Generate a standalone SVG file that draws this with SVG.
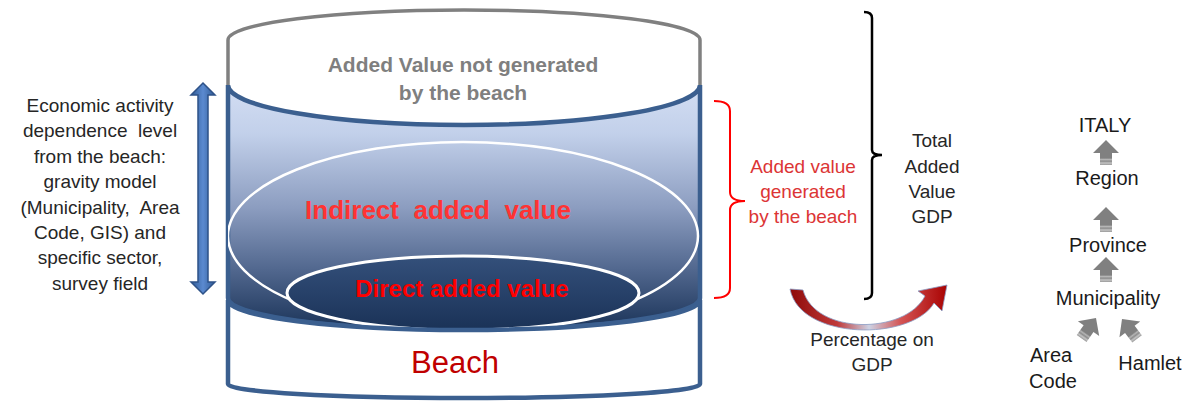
<svg xmlns="http://www.w3.org/2000/svg" width="1191" height="402" viewBox="0 0 1191 402">
<defs>
<style>
text{font-family:"Liberation Sans",Arial,sans-serif;text-anchor:middle}
.body{font-size:19px;fill:#262626}
.red{font-size:19px;fill:#dc3535}
.hier{font-size:20px;fill:#1a1a1a}
.gar{fill:url(#garGrad)}
</style>
<linearGradient id="bodyGrad" x1="0" y1="85" x2="0" y2="330" gradientUnits="userSpaceOnUse">
<stop offset="0" stop-color="#d3def3"/>
<stop offset="0.2" stop-color="#c2d0ea"/>
<stop offset="0.5" stop-color="#8c9dc0"/>
<stop offset="0.75" stop-color="#52688f"/>
<stop offset="1" stop-color="#1a3358"/>
</linearGradient>
<linearGradient id="directGrad" x1="0" y1="256" x2="0" y2="330" gradientUnits="userSpaceOnUse">
<stop offset="0" stop-color="#34507b"/>
<stop offset="1" stop-color="#1a3257"/>
</linearGradient>
<linearGradient id="dblGrad" x1="0" y1="0" x2="1" y2="0">
<stop offset="0" stop-color="#2f5a94"/>
<stop offset="0.5" stop-color="#5b8ad0"/>
<stop offset="1" stop-color="#2f5a94"/>
</linearGradient>
<linearGradient id="curveGrad" x1="790" y1="0" x2="948" y2="0" gradientUnits="userSpaceOnUse">
<stop offset="0" stop-color="#8e0a0a"/>
<stop offset="0.3" stop-color="#c03a3a"/>
<stop offset="0.5" stop-color="#cdd2e4"/>
<stop offset="0.7" stop-color="#d45555"/>
<stop offset="1" stop-color="#a80000"/>
</linearGradient>
<linearGradient id="garGrad" x1="0" y1="0" x2="0" y2="1">
<stop offset="0" stop-color="#808080"/>
<stop offset="0.72" stop-color="#808080"/>
<stop offset="0.78" stop-color="#b5b5b5"/>
<stop offset="0.85" stop-color="#8c8c8c"/>
<stop offset="0.92" stop-color="#c4c4c4"/>
<stop offset="1" stop-color="#9a9a9a"/>
</linearGradient>
<clipPath id="bodyClip">
<path d="M228,85 L228,298 A236,32 0 0 0 700,298 L700,85 A236,40 0 0 1 228,85 Z"/>
</clipPath>
<path id="upArrow" d="M0,0 L13,13 L6,13 L6,25 L-6,25 L-6,13 L-13,13 Z"/>
</defs>

<g id="cylinder-top">
<path d="M228,85 L228,40 A236,30 0 0 1 700,40 L700,85" fill="#ffffff" stroke="#808080" stroke-width="3.5"/>
<text x="463" y="72" font-size="21" font-weight="bold" fill="#7f7f7f">Added Value not generated</text>
<text x="463" y="100" font-size="21" font-weight="bold" fill="#7f7f7f">by the beach</text>
</g>

<g id="cylinder-body">
<path d="M228,85 L228,298 A236,32 0 0 0 700,298 L700,85 A236,40 0 0 1 228,85 Z" fill="url(#bodyGrad)" stroke="#3b5f8f" stroke-width="4.5"/>
</g>

<g id="indirect" clip-path="url(#bodyClip)">
<ellipse cx="463" cy="236" rx="235" ry="94" fill="none" stroke="#ffffff" stroke-width="2.5"/>
<text x="438" y="219" font-size="26" font-weight="bold" fill="#ff3333" xml:space="preserve">Indirect  added  value</text>
</g>

<g id="direct" clip-path="url(#bodyClip)">
<ellipse cx="463" cy="293" rx="176" ry="37" fill="url(#directGrad)" stroke="#ffffff" stroke-width="3"/>
<text x="462" y="297" font-size="24" font-weight="bold" fill="#ff0000">Direct added value</text>
</g>

<g id="beach">
<path d="M228,300 L228,384 A236,14 0 0 0 700,384 L700,300 A236,30 0 0 1 228,300 Z" fill="#ffffff" stroke="#3b5f8f" stroke-width="4.5"/>
<text x="455" y="373" font-size="31" fill="#c00000">Beach</text>
</g>

<g id="dependence">
<path d="M203,83 L215,95 L208,95 L208,282 L215,282 L203,294 L191,282 L198,282 L198,95 L191,95 Z" fill="url(#dblGrad)" stroke="#2e5288" stroke-width="1.5"/>
<text class="body" x="100" y="112">Economic activity</text>
<text class="body" x="100" y="137.4" xml:space="preserve">dependence  level</text>
<text class="body" x="100" y="162.8">from the beach:</text>
<text class="body" x="100" y="188.2">gravity model</text>
<text class="body" x="100" y="213.6" xml:space="preserve">(Municipality,  Area</text>
<text class="body" x="100" y="239">Code, GIS) and</text>
<text class="body" x="100" y="264.4">specific sector,</text>
<text class="body" x="100" y="289.8">survey field</text>
</g>

<g id="generated">
<path d="M714,101 Q730,101 730,111 L730,192 Q730,201 745,201 Q730,201 730,210 L730,288 Q730,298 714,298" fill="none" stroke="#ff0000" stroke-width="2"/>
<text class="red" x="803" y="173">Added value</text>
<text class="red" x="803" y="198">generated</text>
<text class="red" x="803" y="223">by the beach</text>
</g>

<g id="total">
<path d="M864,12 Q872,12 872,18 L872,150 Q872,155 882,155 Q872,155 872,160 L872,293 Q872,299 864,299" fill="none" stroke="#000000" stroke-width="2.5"/>
<text class="body" x="932" y="147">Total</text>
<text class="body" x="932" y="173">Added</text>
<text class="body" x="932" y="198">Value</text>
<text class="body" x="932" y="223">GDP</text>
</g>

<g id="percentage">
<path d="M790,289 L803,290 C815,335 905,335 925,296 L918,291 L947,285 L942,311 L934,303 C912,341 800,341 790,289 Z" fill="url(#curveGrad)" stroke="#8a9cc4" stroke-width="0.8"/>
<text class="body" x="872" y="346">Percentage on</text>
<text class="body" x="872" y="371">GDP</text>
</g>

<g id="hierarchy">
<text class="hier" x="1105" y="132">ITALY</text>
<text class="hier" x="1107" y="185">Region</text>
<text class="hier" x="1108" y="252">Province</text>
<text class="hier" x="1108" y="305">Municipality</text>
<text class="hier" x="1051" y="362">Area</text>
<text class="hier" x="1053" y="388">Code</text>
<text class="hier" x="1150" y="370">Hamlet</text>
</g>

<g id="connectors">
<use href="#upArrow" class="gar" x="1106" y="140"/>
<use href="#upArrow" class="gar" x="1106" y="207"/>
<use href="#upArrow" class="gar" x="1106" y="257"/>
<use href="#upArrow" class="gar" transform="translate(1096,318) rotate(35)"/>
<use href="#upArrow" class="gar" transform="translate(1122,319) rotate(-37)"/>
</g>
</svg>
